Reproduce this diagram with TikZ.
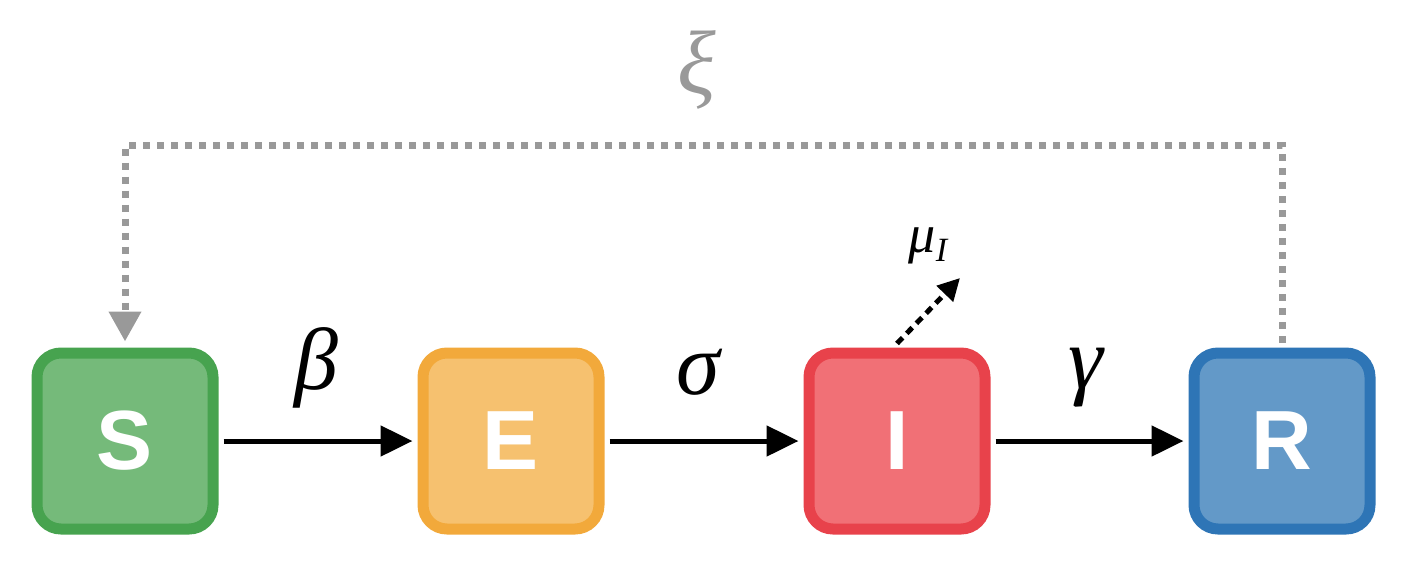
\documentclass[tikz,border=0pt]{standalone}
\usepackage{fontspec}
\setmainfont{Liberation Serif}
\newfontfamily\boxfont{Liberation Sans}
\usetikzlibrary{arrows.meta}
\definecolor{sbd}{HTML}{47A34F}\definecolor{sfl}{HTML}{75BA7A}
\definecolor{ebd}{HTML}{F2A93B}\definecolor{efl}{HTML}{F6C16F}
\definecolor{ibd}{HTML}{E8424B}\definecolor{ifl}{HTML}{F17076}
\definecolor{rbd}{HTML}{2E75B6}\definecolor{rfl}{HTML}{6399C8}
\definecolor{gr}{HTML}{999999}
\begin{document}
\begin{tikzpicture}[x=1pt,y=-1pt,
  comp/.style={draw=#1bd, fill=#1fl, line width=11pt, rounded corners=24pt,
    minimum width=176pt, minimum height=176pt, inner sep=0pt,
    text=white, font=\boxfont\bfseries\fontsize{84}{84}\selectfont},
  flow/.style={line width=5pt, shorten <=5pt, shorten >=5pt,
    -{Triangle[length=32pt,width=30pt]}},
  rate/.style={font=\itshape\fontsize{88}{88}\selectfont},
  feedback/.style={gr, line width=7pt, dash pattern=on 7pt off 7pt,
    -{Triangle[length=30pt,width=31pt]}}]
\useasboundingbox (0,0) rectangle (1410,568);
\node[comp=s] (S) at (125,441) {S};
\node[comp=e] (E) at (511,441) {E};
\node[comp=i] (I) at (897,441) {I};
\node[comp=r] (R) at (1282,441) {R};
\draw[flow] (S) -- (E);
\draw[flow] (E) -- (I);
\draw[flow] (I) -- (R);
\node[rate] (beta) at (316,368) {β};
\node[rate] (sigma) at (698,372) {σ};
\node[rate] (gamma) at (1086,378) {γ};
\coordinate (top) at (1282,145);
\coordinate (topl) at (125,145);
\draw[feedback] ([yshift=5pt]R.north) -- (top) -- (topl) -- ([yshift=6pt]S.north);
\node[rate, text=gr, font=\itshape\fontsize{90}{90}\selectfont] (xi) at (697,70) {ξ};
\coordinate (mutip) at (960,278);
\draw[line width=5pt, dash pattern=on 8pt off 6pt, -{Triangle[length=22pt,width=22pt]}]
  ([yshift=4pt]I.north) -- (mutip);
\node[font=\itshape\fontsize{54}{54}\selectfont] (mu) at (928,246) {μ\raisebox{-9pt}{\fontsize{34}{34}\selectfont I}};
\end{tikzpicture}
\end{document}
